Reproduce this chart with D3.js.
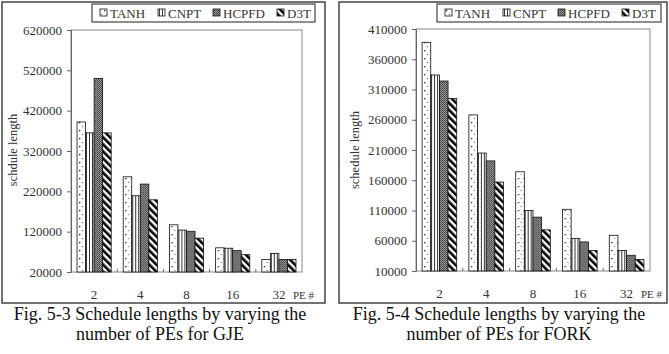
<!DOCTYPE html>
<html>
<head>
<meta charset="utf-8">
<script src="https://cdn.jsdelivr.net/npm/d3@7"></script>
<style>
  body { margin: 0; background: #fff; }
  svg text { font-family: "Liberation Serif", "DejaVu Serif", serif !important; }
</style>
</head>
<body>
<div id="canvas"></div>
<script>
"use strict";

let svgWidth = 669;
let svgHeight = 354;
let serif = "'Liberation Serif', 'DejaVu Serif', serif";

// data
let peCounts = ["2", "4", "8", "16", "32"];
let algorithms = ["TANH", "CNPT", "HCPFD", "D3T"];

let gjeTANH  = [392000, 256000, 137000, 80000, 51000];
let gjeCNPT  = [365000, 209000, 124000, 79000, 66000];
let gjeHCPFD = [500000, 238000, 121000, 73000, 51000];
let gjeD3T   = [365000, 199000, 104000, 63000, 51000];
let gjeTicks = [20000, 120000, 220000, 320000, 420000, 520000, 620000];

let forkTANH  = [388000, 268000, 174000, 112000, 69000];
let forkCNPT  = [334000, 205000, 110000, 64000, 44000];
let forkHCPFD = [324000, 192000, 99000, 58000, 36000];
let forkD3T   = [295000, 157000, 78000, 44000, 29000];
let forkTicks = [10000, 60000, 110000, 160000, 210000, 260000, 310000, 360000, 410000];

let svg = d3.select("#canvas")
  .append("svg")
  .attr("width", svgWidth)
  .attr("height", svgHeight)
  .attr("font-family", serif);

/* patterns for the 4 series */
let defs = svg.append("defs");

let pDots = defs.append("pattern")
  .attr("id", "pat-TANH")
  .attr("patternUnits", "userSpaceOnUse")
  .attr("width", 6).attr("height", 8);
pDots.append("rect").attr("width", 6).attr("height", 8).attr("fill", "#fff");
pDots.append("rect").attr("x", 2).attr("y", 2).attr("width", 1.3).attr("height", 1.3).attr("fill", "#222");
pDots.append("rect").attr("x", 5).attr("y", 6).attr("width", 1).attr("height", 1).attr("fill", "#666");

let pVert = defs.append("pattern")
  .attr("id", "pat-CNPT")
  .attr("patternUnits", "userSpaceOnUse")
  .attr("width", 3).attr("height", 4);
pVert.append("rect").attr("width", 3).attr("height", 4).attr("fill", "#fff");
pVert.append("rect").attr("x", 0).attr("width", 1).attr("height", 4).attr("fill", "#333");

let pGrid = defs.append("pattern")
  .attr("id", "pat-HCPFD")
  .attr("patternUnits", "userSpaceOnUse")
  .attr("width", 2).attr("height", 2);
pGrid.append("rect").attr("width", 2).attr("height", 2).attr("fill", "#9a9a9a");
pGrid.append("rect").attr("width", 1).attr("height", 1).attr("fill", "#3a3a3a");
pGrid.append("rect").attr("x", 1).attr("y", 1).attr("width", 1).attr("height", 1).attr("fill", "#555");

let pDiag = defs.append("pattern")
  .attr("id", "pat-D3T")
  .attr("patternUnits", "userSpaceOnUse")
  .attr("width", 5).attr("height", 5)
  .attr("patternTransform", "rotate(-45)");
pDiag.append("rect").attr("width", 5).attr("height", 5).attr("fill", "#fff");
pDiag.append("rect").attr("width", 2.6).attr("height", 5).attr("fill", "#000");


function drawChart(cfg) {
  let series = cfg.series;
  let rows = peCounts.map(function(pe, i) {
    let row = { pe: pe };
    algorithms.forEach(function(a) { row[a] = series[a][i]; });
    return row;
  });

  // outer frame
  svg.append("rect")
    .attr("x", cfg.frame[0]).attr("y", cfg.frame[1])
    .attr("width", cfg.frame[2] - cfg.frame[0])
    .attr("height", cfg.frame[3] - cfg.frame[1])
    .attr("fill", "none")
    .attr("stroke", "#444")
    .attr("stroke-width", 1.5);

  let x0 = d3.scaleBand()
    .domain(peCounts)
    .range([cfg.left, cfg.right])
    .paddingInner(0.26)
    .paddingOuter(0.13);

  let x1 = d3.scaleBand()
    .domain(algorithms)
    .range([0, x0.bandwidth()]);

  let y = d3.scaleLinear()
    .domain([cfg.ticks[0], cfg.ticks[cfg.ticks.length - 1]])
    .range([cfg.bottom, cfg.top]);

  // plot area border
  svg.append("rect")
    .attr("x", cfg.left).attr("y", cfg.top)
    .attr("width", cfg.right - cfg.left)
    .attr("height", cfg.bottom - cfg.top)
    .attr("fill", "none")
    .attr("stroke", "#888")
    .attr("stroke-width", 1);

  // bars
  let groups = svg.append("g").selectAll("g")
    .data(rows)
    .enter()
    .append("g")
    .attr("transform", function(d) { return "translate(" + x0(d.pe) + ",0)"; });

  groups.selectAll("rect")
    .data(function(d) { return algorithms.map(function(a) { return { key: a, value: d[a] }; }); })
    .enter()
    .append("rect")
    .attr("x", function(d) { return x1(d.key); })
    .attr("y", function(d) { return y(d.value); })
    .attr("width", x1.bandwidth())
    .attr("height", function(d) { return cfg.bottom - y(d.value); })
    .attr("fill", function(d) { return "url(#pat-" + d.key + ")"; })
    .attr("stroke", "#111")
    .attr("stroke-width", 0.8);

  // y axis
  let yAxis = svg.append("g")
    .attr("transform", "translate(" + cfg.left + ",0)")
    .call(d3.axisLeft(y).tickValues(cfg.ticks).tickSize(4).tickPadding(5).tickFormat(d3.format("d")));
  yAxis.attr("font-family", serif);
  yAxis.select(".domain").attr("stroke", "#666");
  yAxis.selectAll(".tick line").attr("stroke", "#666");
  yAxis.selectAll("text")
    .style("font-size", "13px")
    .attr("fill", "#333");

  // category separators at the baseline
  for (let i = 1; i < peCounts.length; i++) {
    let sx = x0(peCounts[i]) - x0.step() * x0.paddingInner() / 2;
    svg.append("line")
      .attr("x1", sx).attr("x2", sx)
      .attr("y1", cfg.bottom).attr("y2", cfg.bottom - 3)
      .attr("stroke", "#666");
  }

  // x labels
  svg.append("g").selectAll("text")
    .data(peCounts)
    .enter()
    .append("text")
    .attr("x", function(d) { return x0(d) + x0.bandwidth() / 2; })
    .attr("y", cfg.bottom + 27)
    .attr("text-anchor", "middle")
    .style("font-size", "13px")
    .attr("fill", "#333")
    .text(function(d) { return d; });

  svg.append("text")
    .attr("x", cfg.right - 9)
    .attr("y", cfg.bottom + 27)
    .style("font-size", "11px")
    .attr("fill", "#333")
    .text("PE #");

  // y label
  svg.append("text")
    .attr("transform", "translate(" + cfg.yLabelX + ",150) rotate(-90)")
    .attr("text-anchor", "middle")
    .attr("dominant-baseline", "central")
    .style("font-size", "12.5px")
    .attr("fill", "#333")
    .text(cfg.yLabel);

  // legend
  svg.append("rect")
    .attr("x", cfg.legend[0]).attr("y", 4)
    .attr("width", cfg.legend[1] - cfg.legend[0])
    .attr("height", 18)
    .attr("fill", "#fff")
    .attr("stroke", "#444")
    .attr("stroke-width", 1.2);

  algorithms.forEach(function(a, i) {
    let lx = cfg.legendItems[i];
    svg.append("rect")
      .attr("x", lx).attr("y", 9)
      .attr("width", 7).attr("height", 7)
      .attr("fill", "url(#pat-" + a + ")")
      .attr("stroke", "#111")
      .attr("stroke-width", 0.8);
    svg.append("text")
      .attr("x", lx + 10)
      .attr("y", 17.5)
      .style("font-size", "13px")
      .attr("fill", "#333")
      .text(a);
  });

  // caption (two lines)
  cfg.caption.forEach(function(line, i) {
    svg.append("text")
      .attr("x", cfg.captionX)
      .attr("y", 320 + i * 20)
      .attr("text-anchor", "middle")
      .style("font-size", "18px")
      .attr("fill", "#111")
      .text(line);
  });
}

drawChart({
  series: { TANH: gjeTANH, CNPT: gjeCNPT, HCPFD: gjeHCPFD, D3T: gjeD3T },
  ticks: gjeTicks,
  frame: [2, 2, 325, 303],
  left: 71, right: 302, top: 30, bottom: 272,
  yLabel: "schdule length",
  yLabelX: 13,
  legend: [92, 315],
  legendItems: [100, 158, 213, 277],
  caption: ["Fig. 5-3 Schedule lengths by varying the", "number of PEs for GJE"],
  captionX: 160
});

drawChart({
  series: { TANH: forkTANH, CNPT: forkCNPT, HCPFD: forkHCPFD, D3T: forkD3T },
  ticks: forkTicks,
  frame: [339, 2, 667, 303],
  left: 416, right: 650, top: 29, bottom: 271,
  yLabel: "schedule length",
  yLabelX: 355,
  legend: [437, 661],
  legendItems: [445, 503, 558, 622],
  caption: ["Fig. 5-4 Schedule lengths by varying the", "number of PEs for FORK"],
  captionX: 499
});
</script>
</body>
</html>
